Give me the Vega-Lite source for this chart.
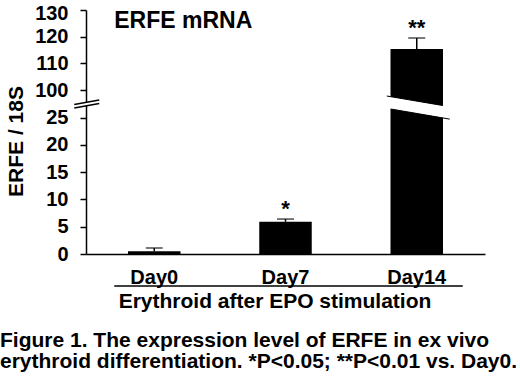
{
  "$schema": "https://vega.github.io/schema/vega-lite/v6.json",
  "width": 399,
  "height": 244,
  "autosize": {"type": "none"},
  "padding": {"left": 86, "top": 10, "right": 35, "bottom": 131},
  "background": "white",
  "config": {"view": {"stroke": null}, "font": "Liberation Sans"},
  "title": {
    "text": ["Figure 1. The expression level of ERFE in ex vivo", "erythroid differentiation. *P<0.05; **P<0.01 vs. Day0."],
    "orient": "bottom",
    "anchor": "start",
    "frame": "group",
    "dx": -86,
    "offset": 19,
    "fontSize": 21,
    "fontWeight": "bold",
    "color": "black",
    "lineHeight": 21,
    "baseline": "top"
  },
  "data": {
    "values": [
      {"day": "Day0", "mean": 0.5, "upper": 1.1, "sig": ""},
      {"day": "Day7", "mean": 5.9, "upper": 6.4, "sig": "*"},
      {"day": "Day14", "mean": 115.4, "upper": 119.5, "sig": "**"}
    ]
  },
  "layer": [
    {
      "mark": {"type": "bar", "color": "black"},
      "encoding": {
        "x": {
          "field": "day", "type": "nominal", "sort": ["Day0", "Day7", "Day14"],
          "scale": {"paddingInner": 0.6, "paddingOuter": 0.32},
          "title": "Erythroid after EPO stimulation",
          "axis": {
            "labelFontSize": 20, "labelFontWeight": "bold", "labelColor": "black", "labelAngle": 0,
            "labelPadding": 13, "ticks": false, "tickSize": 0,
            "domainColor": "black", "domainWidth": 1.5,
            "titleFontSize": 21, "titleFontWeight": "bold", "titleColor": "black",
            "titleX": 188.5, "titleY": 53, "titleBaseline": "alphabetic", "titleAlign": "center"
          }
        },
        "y": {
          "field": "mean", "type": "quantitative",
          "scale": {"domain": [0, 25, 100, 130], "range": [244, 107.5, 80, 0], "nice": false, "zero": false},
          "title": "ERFE / 18S",
          "axis": {
            "values": [0, 5, 10, 15, 20, 25, 100, 110, 120, 130],
            "tickCount": 20,
            "labelFontSize": 20, "labelFontWeight": "bold", "labelColor": "black",
            "labelPadding": 12, "labelFlush": false, "labelOverlap": false,
            "labelOffset": {"condition": {"test": "datum.value == 130", "value": 3}, "value": 0},
            "tickSize": 6, "tickWidth": 1.5, "tickColor": "black",
            "domainColor": "black", "domainWidth": 1.5, "grid": false,
            "titleFontSize": 21, "titleFontWeight": "bold", "titleColor": "black",
            "titleX": -64, "titleY": 131, "titleAngle": 270, "titleAlign": "center", "titleBaseline": "alphabetic"
          }
        }
      }
    },
    {
      "mark": {"type": "rule", "color": "black", "strokeWidth": 1.5},
      "encoding": {
        "x": {"field": "day", "type": "nominal", "sort": ["Day0", "Day7", "Day14"]},
        "y": {"field": "mean", "type": "quantitative"},
        "y2": {"field": "upper"}
      }
    },
    {
      "mark": {"type": "tick", "color": "black", "size": 17, "thickness": 1.5, "orient": "horizontal"},
      "encoding": {
        "x": {"field": "day", "type": "nominal", "sort": ["Day0", "Day7", "Day14"]},
        "y": {"field": "upper", "type": "quantitative"}
      }
    },
    {
      "mark": {"type": "text", "fontSize": 22, "fontWeight": "bold", "baseline": "alphabetic", "dy": -3, "color": "black"},
      "encoding": {
        "x": {"field": "day", "type": "nominal", "sort": ["Day0", "Day7", "Day14"]},
        "y": {"field": "upper", "type": "quantitative"},
        "text": {"field": "sig"}
      }
    },
    {
      "data": {"values": [{}]},
      "mark": {"type": "rule", "color": "white", "strokeWidth": 12, "xOffset": -34, "x2Offset": 36},
      "encoding": {
        "x": {"datum": "Day14"}, "x2": {"datum": "Day14"},
        "y": {"datum": 68.6, "type": "quantitative"}, "y2": {"datum": 36.2}
      }
    },
    {
      "data": {"values": [{}]},
      "mark": {"type": "rule", "color": "black", "strokeWidth": 1, "xOffset": -30, "x2Offset": 26},
      "encoding": {
        "x": {"datum": "Day14"}, "x2": {"datum": "Day14"},
        "y": {"datum": 83.6, "type": "quantitative"}, "y2": {"datum": 57.7}
      }
    },
    {
      "data": {"values": [{}]},
      "mark": {"type": "rule", "color": "black", "strokeWidth": 1, "xOffset": -26, "x2Offset": 33},
      "encoding": {
        "x": {"datum": "Day14"}, "x2": {"datum": "Day14"},
        "y": {"datum": 48.2, "type": "quantitative"}, "y2": {"datum": 24.7}
      }
    },
    {
      "data": {"values": [{}]},
      "mark": {"type": "rule", "color": "white", "strokeWidth": 3, "xOffset": -78, "x2Offset": -57},
      "encoding": {
        "x": {"datum": "Day0"}, "x2": {"datum": "Day0"},
        "y": {"datum": 55.8, "type": "quantitative"}, "y2": {"datum": 68.1}
      }
    },
    {
      "data": {"values": [{}]},
      "mark": {"type": "rule", "color": "black", "strokeWidth": 1.5, "xOffset": -80, "x2Offset": -55},
      "encoding": {
        "x": {"datum": "Day0"}, "x2": {"datum": "Day0"},
        "y": {"datum": 60.5, "type": "quantitative"}, "y2": {"datum": 72.7}
      }
    },
    {
      "data": {"values": [{}]},
      "mark": {"type": "rule", "color": "black", "strokeWidth": 1.5, "xOffset": -80, "x2Offset": -55},
      "encoding": {
        "x": {"datum": "Day0"}, "x2": {"datum": "Day0"},
        "y": {"datum": 50.9, "type": "quantitative"}, "y2": {"datum": 63.2}
      }
    },
    {
      "data": {"values": [{}]},
      "mark": {"type": "rule", "color": "black", "strokeWidth": 1.5, "xOffset": -40, "x2Offset": 46},
      "encoding": {
        "x": {"datum": "Day0"}, "x2": {"datum": "Day14"},
        "y": {"datum": -5.86, "type": "quantitative"}
      }
    },
    {
      "data": {"values": [{}]},
      "mark": {"type": "text", "text": "ERFE mRNA", "fontSize": 23, "fontWeight": "bold", "align": "left", "baseline": "alphabetic", "dx": -40, "color": "black"},
      "encoding": {
        "x": {"datum": "Day0"},
        "y": {"datum": 123.25, "type": "quantitative"}
      }
    }
  ]
}
